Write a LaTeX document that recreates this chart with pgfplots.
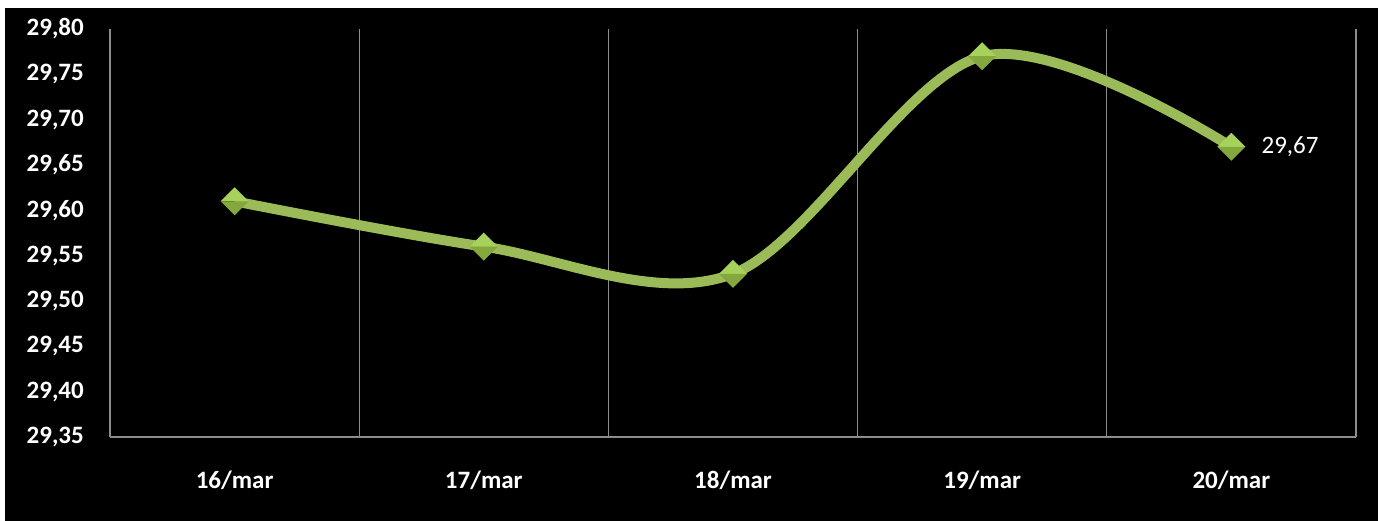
\documentclass[border=0pt]{standalone}
\usepackage{pgfplots}
\pgfplotsset{compat=1.18}
\usepackage{fontspec}
\setmainfont{Carlito}
\definecolor{linegreen}{HTML}{9BBB59}
\definecolor{gemtop}{HTML}{A6D25C}
\definecolor{gembot}{HTML}{84A83E}
\definecolor{gridgray}{HTML}{8C8C8C}
\pgfdeclareplotmark{gem}{%
  \pgfpathmoveto{\pgfqpoint{-\pgfplotmarksize}{0pt}}%
  \pgfpathlineto{\pgfqpoint{0pt}{\pgfplotmarksize}}%
  \pgfpathlineto{\pgfqpoint{\pgfplotmarksize}{0pt}}%
  \pgfpathclose
  \pgfsetfillcolor{gemtop}\pgfusepath{fill}%
  \pgfpathmoveto{\pgfqpoint{-\pgfplotmarksize}{0pt}}%
  \pgfpathlineto{\pgfqpoint{0pt}{-\pgfplotmarksize}}%
  \pgfpathlineto{\pgfqpoint{\pgfplotmarksize}{0pt}}%
  \pgfpathclose
  \pgfsetfillcolor{gembot}\pgfusepath{fill}%
}
\begin{document}
\begin{tikzpicture}
\fill[white] (0,0) rectangle (1378pt,521pt);
\fill[black] (5pt,0) rectangle (1378pt,513pt);
\begin{axis}[
  at={(110pt,84pt)}, anchor=south west,
  scale only axis, width=1246pt, height=408pt,
  xmin=-0.5, xmax=4.5, ymin=29.35, ymax=29.80,
  axis x line=bottom, axis y line=left,
  axis line style={gridgray, line width=1.2pt, -},
  xtick={0,1,2,3,4},
  xticklabels={16/mar,17/mar,18/mar,19/mar,20/mar},
  minor xtick={-0.5,0.5,1.5,2.5,3.5,4.5},
  xminorgrids, minor grid style={gridgray, line width=1.2pt},
  ytick={29.35,29.40,...,29.81},
  major tick length=0pt, minor tick length=0pt,
  /pgf/number format/.cd, fixed, fixed zerofill, precision=2, use comma, assume math mode=true,
  /pgfplots/.cd,
  ticklabel style={font=\fontsize{25}{30}\selectfont\bfseries, text=white, inner sep=0pt},
  yticklabel style={anchor=east, xshift=-26pt},
  xticklabel style={anchor=center, yshift=-43pt},
  clip=false,
]
\addplot[linegreen, line width=10pt, smooth, tension=0.55,
  mark=gem, mark size=14pt]
  coordinates {(0,29.61) (1,29.56) (2,29.53) (3,29.77) (4,29.67)};
\node[anchor=west, text=white, font=\fontsize{25}{30}\selectfont, inner sep=0pt] at (axis cs:4,29.67) [xshift=30pt] {29,67};
\end{axis}
\pgfresetboundingbox
\useasboundingbox (0,0) rectangle (1378pt,521pt);
\end{tikzpicture}
\end{document}
